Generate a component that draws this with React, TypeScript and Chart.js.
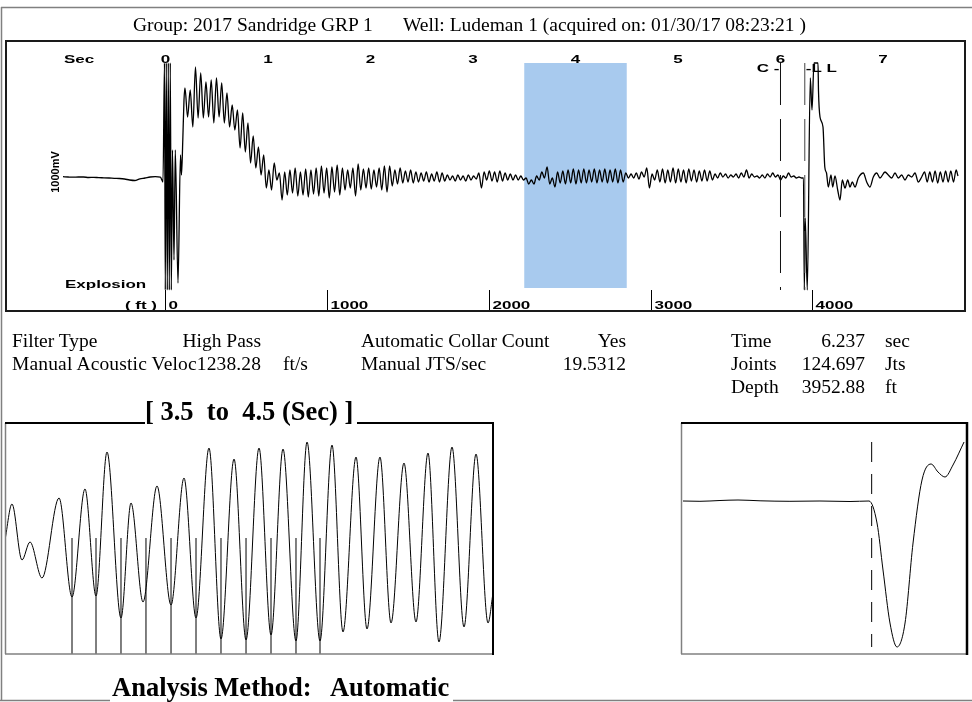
import React, { useEffect, useRef } from "react";
import { Chart, registerables } from "chart.js";

Chart.register(...registerables);

// ---------------- Top trace (time in seconds, amplitude in display units) ----------------
const X_MIN = -1.556;
const X_MAX = 7.8;
const Y_MIN = -133;
const Y_MAX = 137;

const SEC_TICKS = [0, 1, 2, 3, 4, 5, 6, 7];
const DEPTH_TICKS = [0, 1000, 2000, 3000, 4000];
const PICK_TIME = 6.237;
const PICK_DEPTH = 3952.88;
const DEPTH_PER_SEC = PICK_DEPTH / PICK_TIME;

const HIGHLIGHT = [3.5, 4.5];
const HIGHLIGHT_TOP = 115;
const HIGHLIGHT_BOTTOM = -110;

const MARKER_C = 6.0;
const MARKER_L = PICK_TIME;
const MARKER_TOP = 115;
const MARKER_BOTTOM = -112;

const QUIET_START = -1.0;
const QUIET_STEP = 0.05;
const QUIET_V = [1.3, 1.0, 0.8, 1.0, 1.0, 0.5, 0.7, 0.3, 0.2, 0.0, -0.3, -0.5, -1.0, -2.0, -2.5, -0.8, 0.0, 1.0, 1.3, 0.8];

const BURST_T = [-0.0244, -0.0098, -0.002, 0.0078, 0.0176, 0.0273, 0.0371, 0.0468, 0.0566, 0.0683, 0.0829, 0.0956, 0.122, 0.1463, 0.156, 0.1688, 0.1805];
const BURST_V = [-4, 115, -112, 115, -112, 115, -112, 115, -112, 28, -82, 28, -105, 23, 3, 38, 78];

const RING_START = 0.19;
const RING_STEP = 0.0256;
const RING_V = [
  90, 61, 88, 51, 111, 60, 105, 60, 96, 61,
  98, 55, 100, 61, 95, 55, 85, 51, 73, 48,
  68, 30, 65, 26, 55, 15, 42, 10, 31, 3,
  23, -10, 8, -12, 15, -2, 5, -22, 6, -17,
  8, -15, 10, -18, 6, -17, 9, -19, 8, -16,
  10, -18, 12, -15, 10, -20, 11, -14, 13, -17,
  10, -12, 8, -10, 10, -18, 14, -12, 9, -10,
  10, -11, 8, -9, 10, -12, 12, -14, 12, -8,
  8, -6, 10, -5, 7, -4, 8, -5, 6, -4,
  5, -3, 6, -4, 4, -3, 6, -4, 5, -3,
  3, -2, 2, -3, 3, -2, 2, -3, 3, -2,
  2, -1, 5, -10, 6, -2, 7, -3, 6, -4,
  7, -3, 5, -2, 4, -2, 3, -2, 2, -2,
  0, -6, -2, -6, 2, -2, 6, 0, 11, -6,
  0, -9, 6, -5, 7, -6, 8, -5, 9, -6,
  8, -5, 9, -5, 8, -4, 9, -5, 8, -4,
  9, -5, 8, -4, 9, -5, 8, -4, 5, 0,
  4, 0, 5, -1, 6, 1, 10, -10, 4, -2,
  8, -4, 9, -5, 8, -4, 10, -5, 9, -4,
  8, -5, 9, -3, 8, -4, 7, -3, 8, -3,
  7, -2, 4, 0, 5, 1, 4, 0, 3, 1,
  4, 0, 5, 1, 8, 0, 4, 1, 2, 0,
  3, 0, 4, 1, 5, 1, 3, -2, 2, 0,
  5, 1, 2, 0, 1, 0,
];

const SPIKE_T = [6.2244, 6.2322, 6.241, 6.2615, 6.2907, 6.3073, 6.3268, 6.3659, 6.3707, 6.3854, 6.4146, 6.4322, 6.4488];
const SPIKE_V = [0, -112, -40, -112, 100, 68, 115, 115, 87, 61, 51, 11, 5];

const TAIL_T = [
  6.4663, 6.4927, 6.5093, 6.5317, 6.558, 6.5805, 6.6029, 6.6293, 6.6556, 6.678,
  6.7005, 6.7268, 6.759, 6.8078, 6.841, 6.8732, 6.9054, 6.9385, 6.9707, 7.0195,
  7.0517, 7.0849, 7.1171, 7.1493, 7.1824, 7.2146, 7.2468, 7.28, 7.3122, 7.3444,
  7.3776, 7.4059, 7.4312, 7.4566, 7.4829, 7.5083, 7.5337, 7.559, 7.5854, 7.6107,
  7.6361, 7.6615, 7.6878, 7.7132, 7.7317,
];
const TAIL_V = [
  -9, 3, -9, 2, -12, -22, -2, -10, -2, -9,
  -4, -9, 0, 5, -4, -9, 1, 5, 0, 6,
  3, 0, 5, 0, 3, -2, 3, 1, 5, -4,
  1, 6, -4, 6, -4, 7, -5, 6, -4, 7,
  -4, 7, -4, 8, 2,
];

// ---------------- Bottom-left: 3.5 to 4.5 sec window ----------------
const ZOOM_T = [3.5, 3.5143, 3.5348, 3.5512, 3.5758, 3.6107, 3.6373, 3.6639, 3.6865, 3.709, 3.7377, 3.7582, 3.7828, 3.8115, 3.8402, 3.8668, 3.8914, 3.918, 3.9426, 3.9693, 3.9939, 4.0205, 4.0451, 4.0697, 4.0963, 4.1189, 4.1455, 4.1701, 4.1926, 4.2193, 4.2418, 4.2684, 4.291, 4.3176, 4.3422, 4.3668, 4.3893, 4.416, 4.4406, 4.4652, 4.4898, 4.5];
const ZOOM_V = [-1, 35, -21, -3, -39, 41, -58, 50, -57, 87, -79, 36, -63, 53, -66, 61, -79, 91, -100, 80, -101, 91, -96, 90, -102, 97, -102, 94, -93, 82, -90, 82, -84, 76, -83, 86, -103, 92, -88, 85, -84, -54];
const PICK_T = [3.6373, 3.6865, 3.7377, 3.7889, 3.8402, 3.8914, 3.9426, 3.9939, 4.0451, 4.0963, 4.1455];
const PICK_TOP = 1;
const ZOOM_MIN = -115;
const ZOOM_MAX = 116;

// ---------------- Bottom-right: window around the pick ----------------
const WIN_MIN = 6.037;
const WIN_MAX = 6.337;
const WIN_T = [6.0391, 6.0569, 6.0779, 6.0968, 6.1199, 6.1513, 6.1828, 6.2143, 6.2342, 6.2426, 6.2489, 6.2562, 6.2636, 6.272, 6.2804, 6.2898, 6.2993, 6.3066, 6.3139, 6.3223, 6.3339];
const WIN_V = [0, -0.3, 0.5, 1, 0.2, -0.3, 0, -0.5, 0, -22, -69, -122, -146, -122, -42, 21, 37, 29, 24, 36, 59];
const WIN_Y_MIN = -153;
const WIN_Y_MAX = 78;
const WIN_DASH_TOP = 59;
const WIN_DASH_BOTTOM = -146;

function zip(ts: number[], vs: number[]) {
  const n = Math.min(ts.length, vs.length);
  const out: { x: number; y: number }[] = [];
  for (let i = 0; i < n; i++) out.push({ x: ts[i], y: vs[i] });
  return out;
}
function grid(start: number, step: number, vs: number[]) {
  return vs.map((v, i) => ({ x: +(start + i * step).toFixed(5), y: v }));
}

const SANS = '"Liberation Sans", Arial, sans-serif';
function wide(ctx: CanvasRenderingContext2D, text: string, x: number, y: number, align: string, size = 10, sx = 1.7) {
  ctx.save();
  ctx.font = `bold ${size}px ${SANS}`;
  ctx.textAlign = "left";
  ctx.textBaseline = "alphabetic";
  ctx.fillStyle = "#000";
  const w = ctx.measureText(text).width * sx;
  const left = align === "center" ? x - w / 2 : align === "right" ? x - w : x;
  ctx.translate(left, y);
  ctx.scale(sx, 1);
  ctx.fillText(text, 0, 0);
  ctx.restore();
}

const topDecor = {
  id: "topDecor",
  beforeDatasetsDraw(chart: any) {
    const { ctx, scales } = chart;
    const x = scales.x, y = scales.y;
    ctx.save();
    ctx.fillStyle = "#a8caee";
    const x0 = x.getPixelForValue(HIGHLIGHT[0]);
    const x1 = x.getPixelForValue(HIGHLIGHT[1]);
    const y0 = y.getPixelForValue(HIGHLIGHT_TOP);
    const y1 = y.getPixelForValue(HIGHLIGHT_BOTTOM);
    ctx.fillRect(x0, y0, x1 - x0, y1 - y0);
    ctx.restore();
  },
  afterDatasetsDraw(chart: any) {
    const { ctx, scales } = chart;
    const x = scales.x;
    const h = chart.height;
    wide(ctx, "Sec", 58, 22, "left");
    SEC_TICKS.forEach((s) => wide(ctx, String(s), x.getPixelForValue(s), 22, "center"));
    wide(ctx, "Explosion", 59, 247, "left");
    wide(ctx, "( ft )", 151, 268, "right");
    ctx.save();
    ctx.strokeStyle = "#000";
    ctx.lineWidth = 1;
    DEPTH_TICKS.forEach((d) => {
      const px = Math.round(x.getPixelForValue(d / DEPTH_PER_SEC)) + 0.5;
      ctx.beginPath();
      ctx.moveTo(px, 249);
      ctx.lineTo(px, h);
      ctx.stroke();
      wide(ctx, String(d), px + 3, 268, "left");
    });
    ctx.restore();
    const cx = x.getPixelForValue(MARKER_C);
    wide(ctx, "C -", cx - 1, 31, "right");
    const lx = x.getPixelForValue(MARKER_L);
    wide(ctx, "-L L", lx + 1, 31, "left");
    ctx.save();
    ctx.translate(50, 131);
    ctx.rotate(-Math.PI / 2);
    ctx.font = `bold 11px ${SANS}`;
    ctx.textAlign = "center";
    ctx.textBaseline = "middle";
    ctx.fillStyle = "#000";
    ctx.fillText("1000mV", 0, 0);
    ctx.restore();
  },
};

function baseOptions(xmin: number, xmax: number, ymin: number, ymax: number) {
  return {
    responsive: false,
    animation: false as const,
    events: [],
    layout: { padding: 0 },
    scales: {
      x: { type: "linear" as const, min: xmin, max: xmax, display: false },
      y: { type: "linear" as const, min: ymin, max: ymax, display: false },
    },
    plugins: { legend: { display: false }, tooltip: { enabled: false } },
    elements: { point: { radius: 0 }, line: { tension: 0 } },
  };
}

function vline(xv: number, top: number, bottom: number, dash: number[], color: string) {
  return {
    data: [{ x: xv, y: top }, { x: xv, y: bottom }],
    borderColor: color,
    borderWidth: 1,
    borderDash: dash,
    pointRadius: 0,
    fill: false,
  };
}

export default function App() {
  const topRef = useRef<HTMLCanvasElement>(null);
  const blRef = useRef<HTMLCanvasElement>(null);
  const brRef = useRef<HTMLCanvasElement>(null);

  useEffect(() => {
    const trace = [
      ...grid(QUIET_START, QUIET_STEP, QUIET_V),
      ...zip(BURST_T, BURST_V),
      ...grid(RING_START, RING_STEP, RING_V),
      ...zip(SPIKE_T, SPIKE_V),
      ...zip(TAIL_T, TAIL_V),
    ];
    const top = new Chart(topRef.current!, {
      type: "line",
      data: {
        datasets: [
          vline(MARKER_C, MARKER_TOP, MARKER_BOTTOM, [42, 14], "#111"),
          vline(MARKER_L, MARKER_TOP, MARKER_BOTTOM, [42, 14], "#444"),
          { data: trace, borderColor: "#000", borderWidth: 1.3, pointRadius: 0, fill: false, cubicInterpolationMode: "monotone" },
        ],
      },
      options: baseOptions(X_MIN, X_MAX, Y_MIN, Y_MAX) as any,
      plugins: [topDecor],
    });

    const picks: any[] = [];
    PICK_T.forEach((t) => {
      picks.push({ x: t, y: ZOOM_MIN });
      picks.push({ x: t, y: PICK_TOP });
      picks.push({ x: t, y: null });
    });
    const bl = new Chart(blRef.current!, {
      type: "line",
      data: {
        datasets: [
          { data: zip(ZOOM_T, ZOOM_V), borderColor: "#000", borderWidth: 1, pointRadius: 0, fill: false, cubicInterpolationMode: "monotone" },
          { data: picks, borderColor: "#000", borderWidth: 1, pointRadius: 0, fill: false, spanGaps: false },
        ],
      },
      options: baseOptions(HIGHLIGHT[0], HIGHLIGHT[1], ZOOM_MIN, ZOOM_MAX) as any,
    });

    const br = new Chart(brRef.current!, {
      type: "line",
      data: {
        datasets: [
          vline(PICK_TIME, WIN_DASH_TOP, WIN_DASH_BOTTOM, [20, 12], "#000"),
          { data: zip(WIN_T, WIN_V), borderColor: "#000", borderWidth: 1, pointRadius: 0, fill: false, cubicInterpolationMode: "monotone" },
        ],
      },
      options: baseOptions(WIN_MIN, WIN_MAX, WIN_Y_MIN, WIN_Y_MAX) as any,
    });

    return () => {
      top.destroy();
      bl.destroy();
      br.destroy();
    };
  }, []);

  const serif = '"Liberation Serif", "Times New Roman", serif';
  const T = (p: { x: number; y: number; s?: number; b?: boolean; a?: string; len?: number; children: string }) => (
    <text
      x={p.x}
      y={p.y}
      fontFamily={serif}
      fontSize={p.s ?? 19.5}
      fontWeight={p.b ? "bold" : "normal"}
      textAnchor={(p.a as any) ?? "start"}
      textLength={p.len}
      lengthAdjust={p.len ? "spacing" : undefined}
      fill="#000"
      style={{ whiteSpace: "pre" }}
    >
      {p.children}
    </text>
  );

  return (
    <div style={{ position: "relative", width: 972, height: 702, background: "#fff", overflow: "hidden" }}>
      <style>{`body{margin:0;}`}</style>
      <canvas ref={topRef} width={959} height={270} style={{ position: "absolute", left: 6, top: 41, display: "block" }} />
      <canvas ref={blRef} width={488} height={231} style={{ position: "absolute", left: 5, top: 423, display: "block" }} />
      <canvas ref={brRef} width={286} height={231} style={{ position: "absolute", left: 681, top: 423, display: "block" }} />
      <svg width={972} height={702} style={{ position: "absolute", left: 0, top: 0, pointerEvents: "none" }}>
        {/* outer frame */}
        <g stroke="#808080" strokeWidth={1.5} fill="none">
          <line x1={1} y1={7.5} x2={972} y2={7.5} />
          <line x1={1.5} y1={7} x2={1.5} y2={701} />
          <line x1={0} y1={700.5} x2={110} y2={700.5} />
          <line x1={453} y1={700.5} x2={972} y2={700.5} />
        </g>
        {/* top chart frame */}
        <rect x={6} y={41} width={959} height={270} fill="none" stroke="#1a1a1a" strokeWidth={2} />
        {/* bottom-left frame */}
        <g fill="none">
          <line x1={5} y1={654} x2={493} y2={654} stroke="#808080" strokeWidth={1.5} />
          <line x1={5.5} y1={423} x2={5.5} y2={654} stroke="#808080" strokeWidth={1.5} />
          <line x1={5} y1={423} x2={145} y2={423} stroke="#000" strokeWidth={2} />
          <line x1={357} y1={423} x2={494} y2={423} stroke="#000" strokeWidth={2} />
          <line x1={493} y1={422} x2={493} y2={655} stroke="#000" strokeWidth={2} />
        </g>
        {/* bottom-right frame */}
        <g fill="none">
          <line x1={681} y1={654} x2={967} y2={654} stroke="#808080" strokeWidth={1.5} />
          <line x1={681.5} y1={423} x2={681.5} y2={654} stroke="#808080" strokeWidth={1.5} />
          <line x1={681} y1={423} x2={968} y2={423} stroke="#000" strokeWidth={2} />
          <line x1={967} y1={422} x2={967} y2={655} stroke="#000" strokeWidth={2.5} />
        </g>
        {/* header */}
        <T x={133} y={31}>Group: 2017 Sandridge GRP 1</T>
        <T x={403} y={31}>Well: Ludeman 1 (acquired on: 01/30/17 08:23:21 )</T>
        {/* info rows */}
        <T x={12} y={347}>Filter Type</T>
        <T x={261} y={347} a="end">High Pass</T>
        <T x={12} y={370} len={249}>Manual Acoustic Veloc1238.28</T>
        <T x={283} y={370}>ft/s</T>
        <T x={361} y={347}>Automatic Collar Count</T>
        <T x={626} y={347} a="end">Yes</T>
        <T x={361} y={370}>Manual JTS/sec</T>
        <T x={626} y={370} a="end">19.5312</T>
        <T x={731} y={347}>Time</T>
        <T x={865} y={347} a="end">6.237</T>
        <T x={885} y={347}>sec</T>
        <T x={731} y={370}>Joints</T>
        <T x={865} y={370} a="end">124.697</T>
        <T x={885} y={370}>Jts</T>
        <T x={731} y={393}>Depth</T>
        <T x={865} y={393} a="end">3952.88</T>
        <T x={885} y={393}>ft</T>
        {/* titles */}
        <T x={145} y={420} s={26.5} b>{"[ 3.5  to  4.5 (Sec) ]"}</T>
        <T x={112} y={696} s={26.5} b>{"Analysis Method:   Automatic"}</T>
      </svg>
    </div>
  );
}
